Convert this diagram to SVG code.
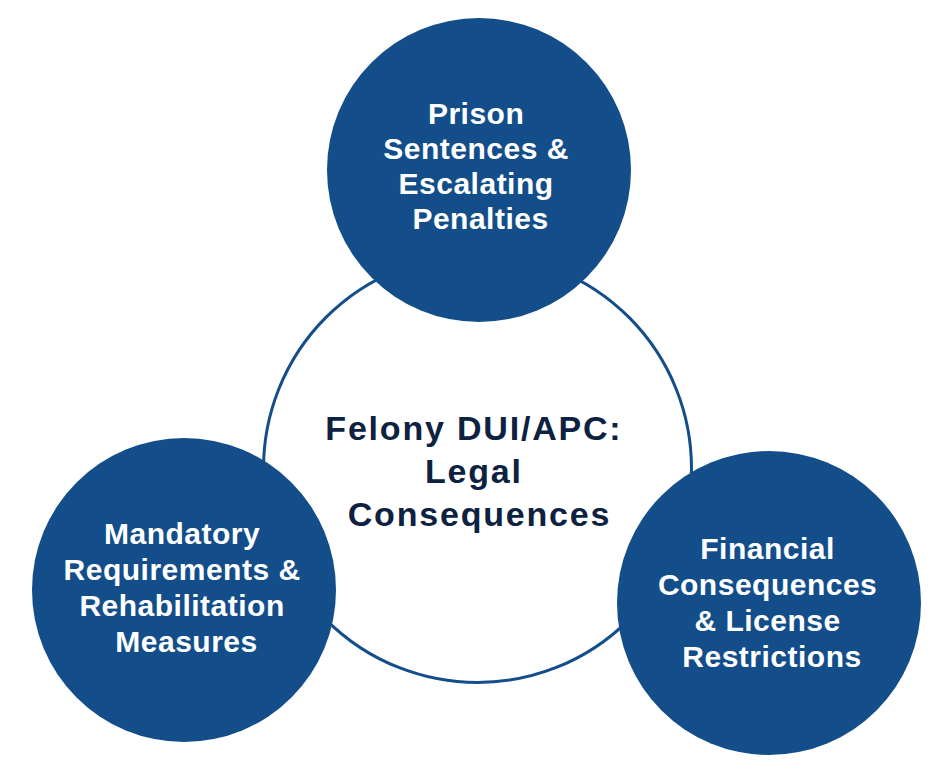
<svg xmlns="http://www.w3.org/2000/svg" width="938" height="769" viewBox="0 0 938 769">
  <style>
    .hub { fill: #ffffff; stroke: #134e8a; stroke-width: 3; }
    .sat { fill: #134e8a; }
    .hubText { font-family: "Liberation Sans", Arial, sans-serif; font-weight: bold; font-size: 34px; letter-spacing: 1.8px; fill: #0d2141; text-anchor: middle; }
    .satText { font-family: "Liberation Sans", Arial, sans-serif; font-weight: bold; font-size: 30px; letter-spacing: 0.5px; fill: #ffffff; text-anchor: middle; }
  </style>
  <rect width="938" height="769" fill="#ffffff"/>
  <g id="connectors"></g>
  <g id="hub">
    <circle class="hub" cx="477.5" cy="468.5" r="214"/>
    <text class="hubText">
      <tspan x="479.5" y="439.5">Felony DUI/APC:</tspan>
      <tspan x="479.5" y="482.5">Legal</tspan>
      <tspan x="479.5" y="525.5">Consequences</tspan>
    </text>
  </g>
  <g id="prison">
    <circle class="sat" cx="479" cy="170" r="152"/>
    <text class="satText">
      <tspan x="480.5" y="123.5">Prison</tspan>
      <tspan x="480.5" y="158.5">Sentences &amp;</tspan>
      <tspan x="480.5" y="194">Escalating</tspan>
      <tspan x="480.5" y="229">Penalties</tspan>
    </text>
  </g>
  <g id="mandatory">
    <circle class="sat" cx="184" cy="590" r="152"/>
    <text class="satText">
      <tspan x="186.5" y="543.5">Mandatory</tspan>
      <tspan x="186.5" y="579.5">Requirements &amp;</tspan>
      <tspan x="186.5" y="615.5">Rehabilitation</tspan>
      <tspan x="186.5" y="651.5">Measures</tspan>
    </text>
  </g>
  <g id="financial">
    <circle class="sat" cx="769" cy="603" r="152"/>
    <text class="satText">
      <tspan x="772" y="559">Financial</tspan>
      <tspan x="772" y="595">Consequences</tspan>
      <tspan x="772" y="631">&amp; License</tspan>
      <tspan x="772" y="667">Restrictions</tspan>
    </text>
  </g>
</svg>
